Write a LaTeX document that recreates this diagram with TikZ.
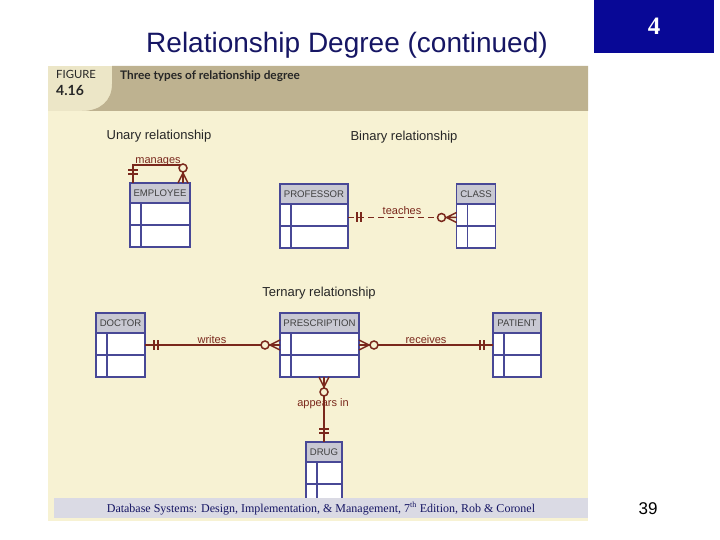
\documentclass[tikz,border=0pt]{standalone}
\usepackage{fontspec}
\setmainfont{Liberation Sans}
\newfontfamily\footface{Liberation Serif}
\newfontfamily\figface{Lato}
\usetikzlibrary{calc}

\definecolor{paper}{RGB}{247,242,211}
\definecolor{paperleft}{RGB}{236,230,199}
\definecolor{bandtan}{RGB}{190,178,144}
\definecolor{footgray}{RGB}{218,218,228}
\definecolor{navybox}{RGB}{8,8,150}
\definecolor{titleblue}{RGB}{22,22,100}
\definecolor{entblue}{RGB}{72,72,150}
\definecolor{enthead}{RGB}{200,200,210}
\definecolor{relred}{RGB}{122,40,28}

\begin{document}
\begin{tikzpicture}[
        x=1pt, y=-1pt,
        entity/.style={
            rectangle,
            draw=entblue,
            line width=1.2pt,
            fill=enthead,
            minimum height=20pt,
            inner sep=0pt,
            outer sep=0pt,
            text=black!75,
            font=\fontsize{9.6}{11}\selectfont
        },
        entbody/.style={
            rectangle,
            draw=entblue,
            line width=1.2pt,
            fill=white,
            minimum height=44pt,
            inner sep=0pt,
            outer sep=0pt
        },
        entline/.style={draw=entblue, line width=1.2pt},
        relline/.style={draw=relred, line width=1.5pt},
        rellabel/.style={inner sep=0pt, text=relred, font=\fontsize{11}{13}\selectfont},
        heading/.style={inner sep=0pt, text=black!85, font=\fontsize{13}{15}\selectfont},
        many_opt/.pic={
            \draw[relline] (0,-5) -- (10,0) -- (0,5) (0,0) -- (10,0);
            \draw[relline, fill=paper] (15,0) circle[radius=4];
        },
        one_one/.pic={
            \draw[relline] (9,-5) -- (9,5) (13,-5) -- (13,5);
        }
    ]

    \useasboundingbox (0,0) rectangle (720,540);
    \fill[white] (0,0) rectangle (720,540);

    % slide title and chapter box
    \node[inner sep=0pt, text=titleblue, font=\fontsize{28}{31}\selectfont] (title) at (347,45) {Relationship Degree (continued)};
    \node[fill=navybox, minimum width=120pt, minimum height=53pt, inner sep=0pt, text=white, font=\footface\bfseries\fontsize{25}{28}\selectfont] (chap_box) at (654,26.5) {4};

    % figure panel
    \fill[paper] (48,66) rectangle (588,521);
    \fill[paperleft] (48,66) rectangle (112,111);
    \fill[bandtan] (588,66) -- (112,66) -- (112,84) .. controls (112,101) and (100,111) .. (82,111) -- (588,111) -- cycle;
    \node[anchor=west, inner sep=0pt, text=black!85, font=\figface\fontsize{11.3}{13}\selectfont] (fig_word) at (56,74) {FIGURE};
    \node[anchor=west, inner sep=0pt, text=black!85, font=\figface\bfseries\fontsize{14}{16}\selectfont] (fig_num) at (56,90) {4.16};
    \node[anchor=west, inner sep=0pt, text=black!85, font=\figface\bfseries\fontsize{11.8}{14}\selectfont] (fig_title) at (120,76) {Three types of relationship degree};

    \node[heading] (unary_head)   at (159,136) {Unary relationship};
    \node[heading] (binary_head)  at (404,137) {Binary relationship};
    \node[heading] (ternary_head) at (319,293) {Ternary relationship};

    % entities
    \foreach \nm/\cx/\cy/\w/\txt in {emp/160/193/60/EMPLOYEE, prof/314/194/68/PROFESSOR, class/476/194/39/CLASS,
            doc/120.5/323/49/DOCTOR, rx/319.5/323/79/PRESCRIPTION, pat/517/323/48/PATIENT, drug/324/452/36/DRUG} {
        \node[entity, minimum width=\w pt] (\nm) at (\cx,\cy) {\txt};
        \node[entbody, minimum width=\w pt, anchor=north] (\nm_body) at (\nm.south) {};
        \draw[entline] ([xshift=11pt]\nm_body.north west) -- ([xshift=11pt]\nm_body.south west);
        \draw[entline] (\nm_body.west) -- (\nm_body.east);
    }

    % unary: manages
    \draw[relline] ([xshift=3pt]emp.north west) -- ++(0,-18) -| ([xshift=-7pt]emp.north east);
    \pic[rotate=90] at ([xshift=3pt]emp.north west) {one_one};
    \pic[rotate=90] at ([xshift=-7pt]emp.north east) {many_opt};
    \node[rellabel] (manages_lbl) at (158,162) {manages};

    % binary: teaches
    \draw[relline, dash pattern=on 6pt off 4pt] ([yshift=8.5pt]prof_body.east) -- ([yshift=8.5pt]prof_body.east -| class_body.west);
    \pic at ([yshift=8.5pt]prof_body.east) {one_one};
    \pic[rotate=180] at ([yshift=8.5pt]prof_body.east -| class_body.west) {many_opt};
    \node[rellabel] (teaches_lbl) at (402,211) {teaches};

    % ternary: writes, receives, appears in
    \draw[relline] ([yshift=10pt]doc_body.east) -- ([yshift=10pt]doc_body.east -| rx_body.west);
    \pic at ([yshift=10pt]doc_body.east) {one_one};
    \pic[rotate=180] at ([yshift=10pt]doc_body.east -| rx_body.west) {many_opt};
    \node[rellabel] (writes_lbl) at (212,340) {writes};

    \draw[relline] ([yshift=10pt]rx_body.east) -- ([yshift=10pt]rx_body.east -| pat_body.west);
    \pic at ([yshift=10pt]rx_body.east) {many_opt};
    \pic[rotate=180] at ([yshift=10pt]rx_body.east -| pat_body.west) {one_one};
    \node[rellabel] (receives_lbl) at (426,340) {receives};

    \draw[relline] (rx_body.south -| drug.north) -- (drug.north);
    \pic[rotate=-90] at (rx_body.south -| drug.north) {many_opt};
    \pic[rotate=90] at (drug.north) {one_one};
    \node[rellabel] (appears_lbl) at (323,404) {appears in};

    % footer
    \fill[footgray] (54,498) rectangle (588,518);
    \node[inner sep=0pt, text=titleblue, font=\footface\fontsize{12}{14}\selectfont] (foot_text) at (321,508.5) {Database Systems: Design, Implementation, \& Management, 7\textsuperscript{th} Edition, Rob \& Coronel};
    \node[inner sep=0pt, font=\fontsize{17}{19}\selectfont] (page_num) at (648,509) {39};

\end{tikzpicture}
\end{document}
